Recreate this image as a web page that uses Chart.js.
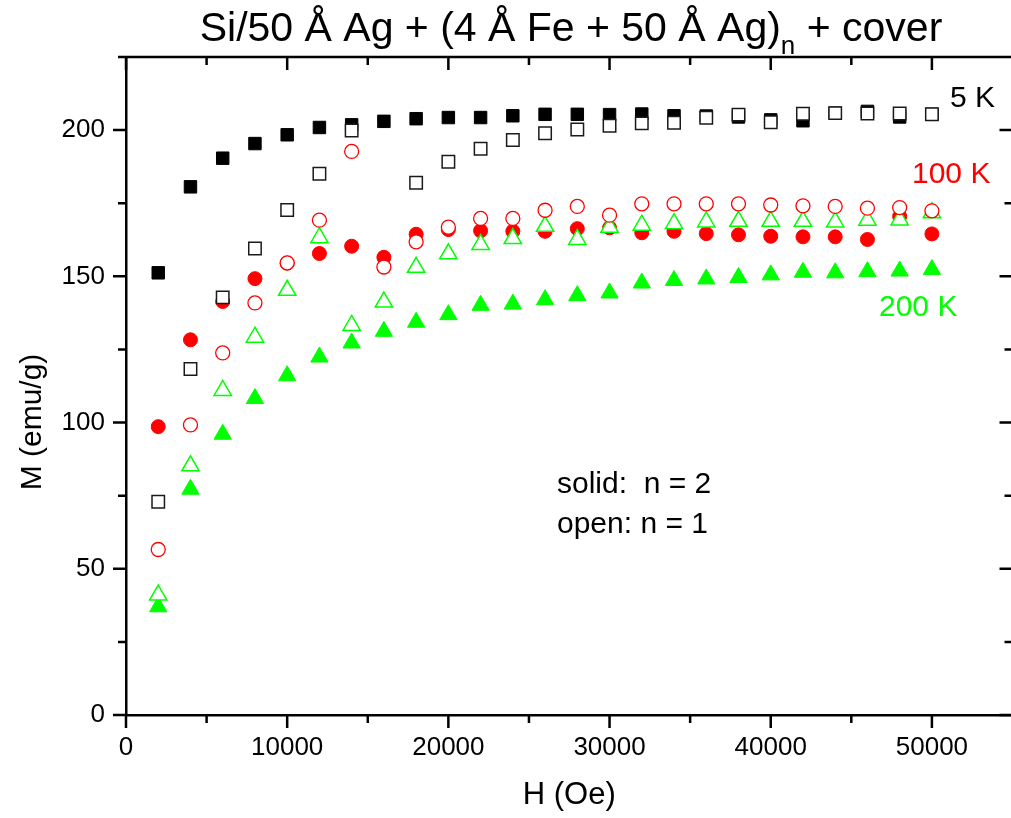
<!DOCTYPE html>
<html>
<head>
<meta charset="utf-8">
<script src="https://cdn.jsdelivr.net/npm/chart.js@4"></script>
<style>
  html, body { margin: 0; padding: 0; background: #fff; overflow: hidden; }
  #wrap { width: 1024px; height: 818px; }
</style>
</head>
<body>
<div id="wrap"><canvas id="mhChart" width="1024" height="818"></canvas></div>
<script>
document.addEventListener("DOMContentLoaded", function () {

    const font = "'Liberation Sans', Arial, sans-serif";
    const black = "#000000";
    const red = "#ff0000";
    const green = "#00ff00";

    // field values (Oe)
    const fieldH = [2000, 4000, 6000, 8000, 10000, 12000, 14000, 16000, 18000, 20000,
        22000, 24000, 26000, 28000, 30000, 32000, 34000, 36000, 38000, 40000,
        42000, 44000, 46000, 48000, 50000];

    // magnetization (emu/g), solid = n = 2, open = n = 1
    const m5K_n2 = [151.2, 180.6, 190.4, 195.4, 198.4, 200.9, 201.8, 203.0, 203.9, 204.3,
        204.3, 204.9, 205.4, 205.4, 205.3, 205.5, 204.9, 204.8, 204.5, 203.5,
        203.2, 205.8, 206.4, 204.5, 205.4];
    const m5K_n1 = [72.9, 118.3, 142.8, 159.5, 172.7, 185.1, 199.9, null, 182.0, 189.2,
        193.6, 196.6, 198.9, 200.2, 201.5, 202.3, 202.5, 204.2, 205.3, 202.7,
        205.6, 205.8, 205.7, 205.7, 205.4];
    const m100K_n2 = [98.6, 128.3, 141.4, 149.2, 154.5, 157.8, 160.3, 156.5, 164.4, 166.0,
        165.6, 165.4, 165.4, 166.3, 166.6, 164.9, 165.4, 164.6, 164.2, 163.7,
        163.5, 163.5, 162.6, 170.5, 164.5];
    const m100K_n1 = [56.6, 99.2, 123.8, 140.9, 154.6, 169.2, 192.7, 153.2, 161.8, 166.8,
        169.8, 169.8, 172.6, 173.9, 170.9, 174.8, 174.8, 174.8, 174.8, 174.4,
        174.1, 173.9, 173.3, 173.5, 172.4];
    const m200K_n2 = [37.0, 77.2, 96.0, 108.2, 116.0, 122.4, 127.2, 131.2, 134.3, 136.9,
        140.1, 140.5, 142.0, 143.4, 144.3, 147.7, 148.6, 149.1, 149.6, 150.5,
        151.4, 151.2, 151.6, 151.8, 152.3];
    const m200K_n1 = [41.0, 85.2, 111.0, 129.2, 145.2, 163.2, 133.2, 141.2, 153.1, 157.7,
        160.9, 162.9, 167.1, 162.6, 166.8, 167.5, 168.0, 168.6, 168.8, 168.8,
        168.8, 168.6, 169.2, 169.3, 171.7];

    const xTicks = [0, 10000, 20000, 30000, 40000, 50000];
    const yTicks = [0, 50, 100, 150, 200];

    function pts(values) {
        return fieldH.map((h, i) => ({ x: h, y: values[i] }));
    }

    // Frame, minor ticks, mirrored ticks and text labels
    const framePlugin = {
        id: "frame",
        afterDraw(chart) {
            const ctx = chart.ctx;
            const a = chart.chartArea;
            const x = chart.scales.x;
            const y = chart.scales.y;

            ctx.save();
            ctx.strokeStyle = black;
            ctx.lineWidth = 2.5;
            ctx.beginPath();
            ctx.moveTo(a.left, a.top);
            ctx.lineTo(a.right, a.top);
            ctx.lineTo(a.right, a.bottom);

            for (let v = 0; v <= x.max; v += 5000) {
                const px = x.getPixelForValue(v);
                const len = xTicks.includes(v) ? 13 : 8;
                ctx.moveTo(px, a.bottom);
                ctx.lineTo(px, a.bottom + len);
                ctx.moveTo(px, a.top);
                ctx.lineTo(px, a.top + len);
            }
            for (let v = 0; v <= y.max; v += 25) {
                const py = y.getPixelForValue(v);
                const len = yTicks.includes(v) ? 13 : 8;
                ctx.moveTo(a.left, py);
                ctx.lineTo(a.left - len, py);
                ctx.moveTo(a.right, py);
                ctx.lineTo(a.right - len, py);
            }
            ctx.stroke();

            // title with subscript n
            const main = "Si/50 \u00C5 Ag + (4 \u00C5 Fe + 50 \u00C5 Ag)";
            const sub = "n";
            const tail = " + cover";
            ctx.fillStyle = black;
            ctx.textBaseline = "alphabetic";
            ctx.textAlign = "left";
            ctx.font = "41px " + font;
            const w1 = ctx.measureText(main).width;
            const w3 = ctx.measureText(tail).width;
            ctx.font = "26px " + font;
            const w2 = ctx.measureText(sub).width;
            let tx = 571 - (w1 + w2 + w3) / 2;
            ctx.font = "41px " + font;
            ctx.fillText(main, tx, 41);
            tx += w1;
            ctx.font = "26px " + font;
            ctx.fillText(sub, tx, 54);
            tx += w2;
            ctx.font = "41px " + font;
            ctx.fillText(tail, tx, 41);

            // y axis title
            ctx.save();
            ctx.translate(41, 422);
            ctx.rotate(-Math.PI / 2);
            ctx.textAlign = "center";
            ctx.font = "30px " + font;
            ctx.fillText("M (emu/g)", 0, 0);
            ctx.restore();

            // series labels
            ctx.font = "30px " + font;
            ctx.textAlign = "left";
            ctx.fillStyle = black;
            ctx.fillText("5 K", 950, 107);
            ctx.fillStyle = red;
            ctx.fillText("100 K", 912, 183);
            ctx.fillStyle = green;
            ctx.fillText("200 K", 879, 316);
            ctx.fillStyle = black;
            ctx.fillText("solid:  n = 2", 557, 493);
            ctx.fillText("open: n = 1", 557, 533);
            ctx.restore();
        }
    };

    new Chart(document.getElementById("mhChart"), {
        type: "scatter",
        data: {
            datasets: [
                { label: "5 K, n = 1", data: pts(m5K_n1), pointStyle: "rect", pointRadius: 8.8,
                  backgroundColor: "#ffffff", borderColor: "#1a1a1a", borderWidth: 1.5, order: 1 },
                { label: "100 K, n = 1", data: pts(m100K_n1), pointStyle: "circle", pointRadius: 7,
                  backgroundColor: "#ffffff", borderColor: red, borderWidth: 1.3, order: 1 },
                { label: "200 K, n = 1", data: pts(m200K_n1), pointStyle: "triangle", pointRadius: 10,
                  backgroundColor: "#ffffff", borderColor: green, borderWidth: 1.5, order: 1 },
                { label: "5 K, n = 2", data: pts(m5K_n2), pointStyle: "rect", pointRadius: 8.8,
                  backgroundColor: black, borderColor: black, borderWidth: 1, order: 2 },
                { label: "100 K, n = 2", data: pts(m100K_n2), pointStyle: "circle", pointRadius: 7,
                  backgroundColor: red, borderColor: red, borderWidth: 1, order: 2 },
                { label: "200 K, n = 2", data: pts(m200K_n2), pointStyle: "triangle", pointRadius: 10,
                  backgroundColor: green, borderColor: green, borderWidth: 1, order: 2 }
            ]
        },
        options: {
            responsive: false,
            animation: false,
            layout: { padding: { top: 57, right: 7, left: 0, bottom: 0 } },
            plugins: {
                legend: { display: false },
                tooltip: { enabled: false }
            },
            scales: {
                x: {
                    type: "linear",
                    min: 0,
                    max: 55000,
                    afterBuildTicks: s => { s.ticks = xTicks.map(v => ({ value: v })); },
                    afterFit: s => { s.height = 103; },
                    ticks: { color: black, font: { family: font, size: 26 }, padding: 4, maxRotation: 0,
                             callback: v => String(v) },
                    grid: { display: true, drawOnChartArea: false, tickLength: 13, tickColor: "rgba(0,0,0,0)" },
                    border: { display: true, color: black, width: 2.5 },
                    title: { display: true, text: "H (Oe)", color: black,
                             font: { family: font, size: 31 }, padding: { top: 0, bottom: 4 } }
                },
                y: {
                    type: "linear",
                    min: 0,
                    max: 225,
                    afterBuildTicks: s => { s.ticks = yTicks.map(v => ({ value: v })); },
                    afterFit: s => { s.width = 126; },
                    ticks: { color: black, font: { family: font, size: 26 }, padding: 8 },
                    grid: { display: true, drawOnChartArea: false, tickLength: 13, tickColor: "rgba(0,0,0,0)" },
                    border: { display: true, color: black, width: 2.5 }
                }
            }
        },
        plugins: [framePlugin]
    });
});
</script>
</body>
</html>
